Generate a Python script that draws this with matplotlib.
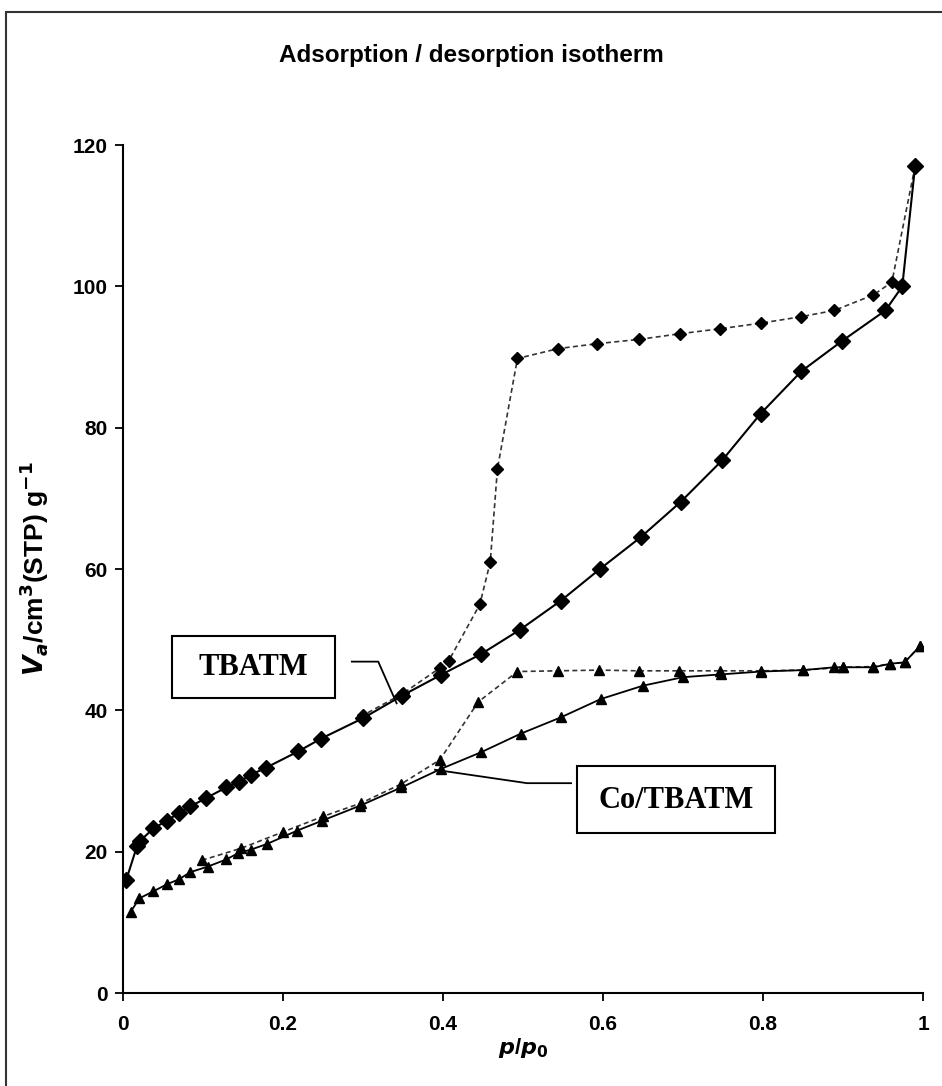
import matplotlib
matplotlib.use('Agg')
import matplotlib.pyplot as plt
from matplotlib.patches import Rectangle
from matplotlib.ticker import FuncFormatter

# TBATM, adsorption branch (solid line, big diamonds)
tb_ads_x = [0.004, 0.0175, 0.021, 0.038, 0.055, 0.07, 0.084, 0.104, 0.129, 0.145,
            0.16, 0.179, 0.219, 0.2475, 0.30, 0.349, 0.397, 0.448, 0.496, 0.547,
            0.596, 0.647, 0.697, 0.749, 0.797, 0.848, 0.899, 0.953, 0.974, 0.99]
tb_ads_y = [16.0, 20.8, 21.5, 23.3, 24.4, 25.5, 26.4, 27.6, 29.1, 29.9,
            30.9, 31.9, 34.2, 36.0, 38.9, 42.1, 45.0, 48.0, 51.4, 55.5,
            60.0, 64.5, 69.5, 75.4, 82.0, 88.0, 92.3, 96.6, 100.0, 117.0]

# TBATM, desorption branch (dashed line, small diamonds)
tb_des_x = [0.99, 0.961, 0.938, 0.889, 0.847, 0.797, 0.746, 0.696, 0.645, 0.593,
            0.544, 0.493, 0.468, 0.459, 0.446, 0.407, 0.396, 0.35, 0.30]
tb_des_y = [117.0, 100.6, 98.8, 96.6, 95.7, 94.8, 94.0, 93.3, 92.5, 91.9,
            91.2, 89.8, 74.2, 61.0, 55.0, 47.0, 46.0, 42.4, 39.3]

# Co/TBATM, adsorption branch (solid line, triangles)
co_ads_x = [0.0096, 0.0204, 0.038, 0.055, 0.07, 0.084, 0.106, 0.129, 0.144, 0.16,
            0.18, 0.218, 0.249, 0.296, 0.348, 0.397, 0.448, 0.497, 0.547, 0.597,
            0.65, 0.70, 0.748, 0.798, 0.85, 0.889, 0.90, 0.938, 0.959, 0.977, 0.996]
co_ads_y = [11.5, 13.4, 14.4, 15.4, 16.1, 17.1, 17.9, 18.9, 19.8, 20.3,
            21.1, 23.0, 24.4, 26.5, 29.1, 31.7, 34.1, 36.7, 39.0, 41.6,
            43.5, 44.7, 45.1, 45.5, 45.7, 46.1, 46.1, 46.1, 46.6, 46.8, 49.1]

# Co/TBATM, desorption branch (dashed line, triangles)
co_des_x = [0.996, 0.977, 0.959, 0.938, 0.90, 0.85, 0.798, 0.746, 0.695, 0.645,
            0.595, 0.544, 0.493, 0.444, 0.396, 0.348, 0.298, 0.25, 0.2, 0.148, 0.099]
co_des_y = [49.1, 46.8, 46.6, 46.2, 46.1, 45.7, 45.6, 45.6, 45.6, 45.6,
            45.7, 45.6, 45.5, 41.2, 33.0, 29.6, 26.9, 25.0, 22.8, 20.5, 18.8]

x_ticks = [0, 0.2, 0.4, 0.6, 0.8, 1]
y_ticks = [0, 20, 40, 60, 80, 100, 120]

sans = ['Liberation Sans Narrow', 'Liberation Sans', 'DejaVu Sans']
serif = ['Liberation Serif', 'DejaVu Serif']

fig = plt.figure(figsize=(9.42, 10.86), dpi=100)
ax = fig.add_axes([0.1306, 0.0856, 0.8493, 0.7808])

dash = (0, (3, 2))
ax.plot(tb_des_x, tb_des_y, color='#333333', lw=1.2, linestyle=dash,
        marker='D', ms=6, mfc='black', mec='black', zorder=3)
ax.plot(tb_ads_x, tb_ads_y, color='black', lw=1.5,
        marker='D', ms=8.5, mfc='black', mec='black', zorder=4)
ax.plot(co_des_x, co_des_y, color='#333333', lw=1.2, linestyle=dash,
        marker='^', ms=7.5, mfc='black', mec='black', zorder=3)
ax.plot(co_ads_x, co_ads_y, color='black', lw=1.3,
        marker='^', ms=7, mfc='black', mec='black', zorder=4)

ax.set_xlim(0, 1)
ax.set_ylim(0, 120)
ax.set_xticks(x_ticks)
ax.set_yticks(y_ticks)
ax.xaxis.set_major_formatter(FuncFormatter(lambda v, p: '{:g}'.format(v)))
for s in ('top', 'right'):
    ax.spines[s].set_visible(False)
for s in ('left', 'bottom'):
    ax.spines[s].set_linewidth(1.5)
ax.tick_params(direction='out', length=6, width=1.3, labelsize=15)
ax.tick_params(axis='x', pad=10)
ax.tick_params(axis='y', pad=5)
for lab in ax.get_xticklabels() + ax.get_yticklabels():
    lab.set_family(sans)
    lab.set_weight('bold')

ax.set_xlabel(r'$\bfit{p}$/$\bfit{p}_{\mathbf{0}}$', fontsize=16, family=sans,
              fontweight='bold', labelpad=1)
ax.set_ylabel(r'$\bfit{V}_{\bfit{a}}$/cm$^{\mathbf{3}}$(STP) g$^{\mathbf{-1}}$', fontsize=19,
              family=sans, fontweight='bold', labelpad=16)
fig.text(0.5, 0.949, 'Adsorption / desorption isotherm', ha='center', va='center',
         fontsize=17.5, fontweight='bold', family=sans)

# label boxes and leader lines
ax.add_patch(Rectangle((0.061, 41.7), 0.204, 8.8, fill=False, lw=1.5, ec='black', zorder=5))
ax.text(0.163, 46.1, 'TBATM', ha='center', va='center', fontsize=22,
        fontweight='bold', family=serif, zorder=5)
ax.plot([0.286, 0.319, 0.342], [46.9, 46.9, 41.0], color='black', lw=1.3, zorder=5)

ax.add_patch(Rectangle((0.5675, 22.6), 0.2475, 9.5, fill=False, lw=1.5, ec='black', zorder=5))
ax.text(0.691, 27.3, 'Co/TBATM', ha='center', va='center', fontsize=22,
        fontweight='bold', family=serif, zorder=5)
ax.plot([0.56, 0.505, 0.39], [29.7, 29.7, 31.6], color='black', lw=1.3, zorder=5)

# outer frame around the whole figure
fig.patches.append(Rectangle((0.006, -0.01), 1.0, 0.999, transform=fig.transFigure,
                             fill=False, lw=1.5, ec='#333333'))

fig.savefig('out.png', dpi=100)
